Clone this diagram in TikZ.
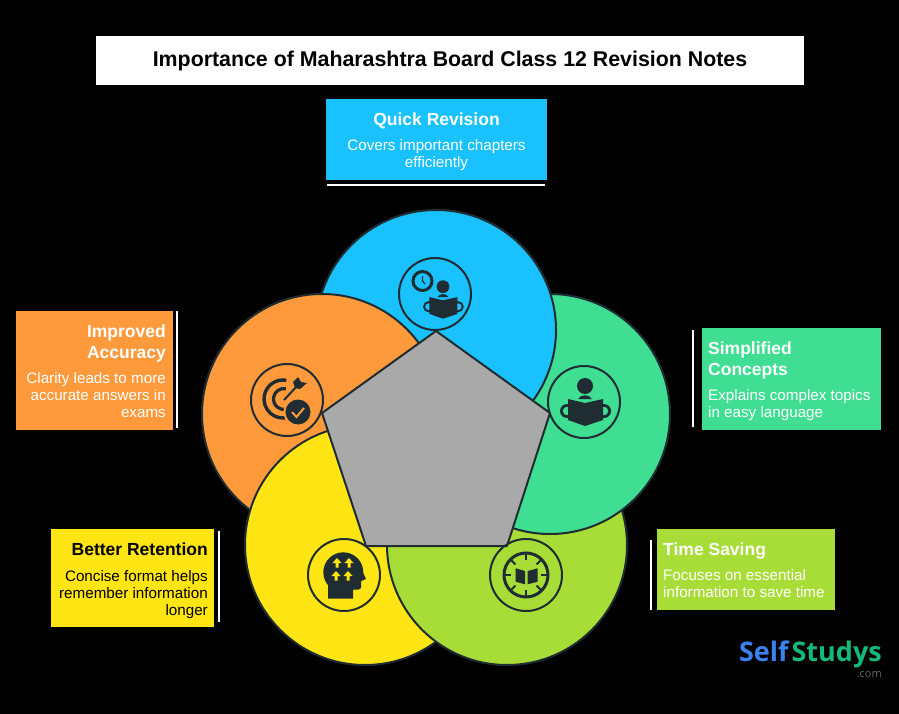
\documentclass[tikz,border=0pt]{standalone}
\usepackage{fontspec}
\usepackage{xcolor}
\setmainfont{Liberation Sans}
\newfontfamily\logofont{Open Sans}
\usetikzlibrary{positioning, shapes}

\definecolor{inkdark}{HTML}{1F2D33}
\definecolor{blueq}{HTML}{19C1FF}
\definecolor{orangeq}{HTML}{FF9A3C}
\definecolor{greenq}{HTML}{40DE93}
\definecolor{yellowq}{HTML}{FFE513}
\definecolor{limeq}{HTML}{A8DC36}
\definecolor{greyq}{HTML}{A9A9A9}
\definecolor{logoblue}{HTML}{3B82F0}
\definecolor{logogreen}{HTML}{17B97A}

\tikzset{
  petal/.style={circle, draw=inkdark, line width=2pt, minimum size=240pt, inner sep=0pt},
  iconring/.style={circle, draw=inkdark, line width=2pt, minimum size=72pt, inner sep=0pt},
  notebox/.style={rectangle, inner sep=0pt},
  headtext/.style={inner sep=0pt, text=white, font=\fontsize{17.5}{21}\selectfont\bfseries},
  bodytext/.style={inner sep=0pt, text=white, font=\fontsize{15.2}{17}\selectfont},
  rule/.style={draw=white, line width=2pt}
}

% reader with a book, drawn round (0,0), #1 is the colour behind it
\newcommand{\bookreader}[1]{
  \fill[inkdark] (0,-16) circle (8);
  \fill[inkdark] (-7,-3) .. controls (-4,-8) and (4,-8) .. (7,-3) -- cycle;
  \fill[inkdark] (-18,9) circle (7) (19,9) circle (7);
  \fill[#1] (-18,9) circle (4.2) (19,9) circle (4.2);
  \fill[inkdark] (-17,-3) -- (0,1) -- (18,-3) -- (18,18) -- (0,24) -- (-17,18) -- cycle;
}

\begin{document}
\begin{tikzpicture}[x=1pt, y=-1pt]
  \useasboundingbox (0,0) rectangle (899,714);
  \fill[black] (0,0) rectangle (899,714);

  % title
  \node (title) [rectangle, fill=white, minimum width=708pt, minimum height=49pt, inner sep=0pt, font=\fontsize{21.35}{26}\selectfont\bfseries] at (450,60.5) {\raisebox{-1.5pt}{Importance of Maharashtra Board Class 12 Revision Notes}};

  % petals
  \node (pblue) [petal, fill=blueq] at (436,330) {};
  \node (porange) [petal, fill=orangeq] at (322,414) {};
  \node (pyellow) [petal, fill=yellowq] at (365,545) {};
  \node (plime) [petal, fill=limeq] at (507,545) {};
  \node (pgreen) [petal, fill=greenq] at (550,414) {};
  \begin{scope}
    \clip (436,200) rectangle (570,460);
    \node (pblueover) [petal, fill=blueq] at (436,330) {};
  \end{scope}
  \draw[inkdark, line width=2pt, fill=greyq, line join=round] (436,331) -- (550,413) -- (507,546) -- (366,546) -- (322,413) -- cycle;

  % icon rings
  \node (iblue) [iconring] at (435,294) {};
  \node (iorange) [iconring] at (287,400) {};
  \node (igreen) [iconring] at (584,402) {};
  \node (iyellow) [iconring] at (344,575) {};
  \node (ilime) [iconring] at (526,575) {};

  % clock and reader
  \draw[inkdark, line width=3pt] (422.5,281) circle (9.5);
  \draw[inkdark, line width=1.2pt] (422.5,276) -- (422.5,281) -- (425,284);
  \begin{scope}[shift={(443,299.5)}, scale=0.8]
    \bookreader{blueq}
  \end{scope}

  % target
  \draw[inkdark, line width=3.4pt] (283,399) ++(-80:19) arc[start angle=-80, end angle=-280, radius=19];
  \draw[inkdark, line width=3.2pt] (284,399) ++(-80:10.5) arc[start angle=-80, end angle=-280, radius=10.5];
  \draw[inkdark, line width=2pt] (284,400) -- (298,385);
  \fill[inkdark] (293,382) -- (298,377) -- (301,382) -- (307,383) -- (300,389) -- (295,388) -- cycle;
  \fill[orangeq] (298,412) circle (14.5);
  \fill[inkdark] (298,412) circle (12.5);
  \draw[orangeq, line width=2pt] (292,412) -- (296.5,417) -- (304,408);

  % reader
  \begin{scope}[shift={(585,402)}]
    \bookreader{greenq}
  \end{scope}

  % head
  \fill[inkdark] (343.3,572.3) circle (20);
  \fill[inkdark] (328,580) -- (328,598.5) -- (353,598.5) -- (353,589.5) .. controls (357,590) and (361,590) .. (361,587) -- (361,581) -- (366,579) -- (361,568) -- cycle;
  \foreach \ax/\ay in {337/563, 349/563, 336/576, 348/576} {
    \fill[yellowq] (\ax,\ay-5) -- (\ax+4.5,\ay) -- (\ax+1.5,\ay) -- (\ax+1.5,\ay+4.5) -- (\ax-1.5,\ay+4.5) -- (\ax-1.5,\ay) -- (\ax-4.5,\ay) -- cycle;
  }

  % compass and book
  \draw[inkdark, line width=3pt] (526,575) circle (22);
  \foreach \a in {0,45,...,315} {
    \draw[inkdark, line width=2pt] (526,575) ++(\a:21) -- ++(\a:-6);
  }
  \fill[inkdark] (515.7,568.3) -- (525,571) -- (525,584.3) -- (515.7,581.7) -- cycle;
  \fill[inkdark] (527.7,571) -- (537.7,568.3) -- (537.7,581.7) -- (527.7,584.3) -- cycle;

  % boxes
  \node (nblue) [notebox, fill=blueq, minimum width=221pt, minimum height=81pt] at (436.5,139.5) {};
  \node (norange) [notebox, fill=orangeq, minimum width=157pt, minimum height=119pt] at (94.5,370.5) {};
  \node (ngreen) [notebox, fill=greenq, minimum width=179pt, minimum height=102pt] at (791.5,379) {};
  \node (nyellow) [notebox, fill=yellowq, minimum width=163pt, minimum height=98pt] at (132.5,578) {};
  \node (nlime) [notebox, fill=limeq, minimum width=178pt, minimum height=81pt] at (746,569.5) {};

  % box texts
  \node (hblue) [headtext, anchor=north] at (436.5,113) {Quick Revision};
  \node (tblue) [bodytext, align=center, below=10pt of hblue] {Covers important chapters\\efficiently};
  \node (horange) [headtext, align=right, anchor=north east] at (166,325) {Improved\\Accuracy};
  \node (torange) [bodytext, align=right, below=10pt of horange.south east, anchor=north east] {Clarity leads to more\\accurate answers in\\exams};
  \node (hgreen) [headtext, align=left, anchor=north west] at (708,342) {Simplified\\Concepts};
  \node (tgreen) [bodytext, align=left, below=10pt of hgreen.south west, anchor=north west] {Explains complex topics\\in easy language};
  \node (hyellow) [headtext, text=black, anchor=north east] at (208,543) {Better Retention};
  \node (tyellow) [bodytext, text=black, align=right, below=14pt of hyellow.south east, anchor=north east] {Concise format helps\\remember information\\longer};
  \node (hlime) [headtext, anchor=north west] at (663,543) {Time Saving};
  \node (tlime) [bodytext, align=left, below=9pt of hlime.south west, anchor=north west] {Focuses on essential\\information to save time};

  % rules beside the boxes
  \coordinate (rblueA) at (327,185);
  \coordinate (rblueB) at (545,185);
  \coordinate (rorangeA) at (177,311);
  \coordinate (rorangeB) at (177,428);
  \coordinate (rgreenA) at (693,330);
  \coordinate (rgreenB) at (693,427);
  \coordinate (ryellowA) at (219,531);
  \coordinate (ryellowB) at (219,622);
  \coordinate (rlimeA) at (651,540);
  \coordinate (rlimeB) at (651,610);
  \foreach \r in {rblue, rorange, rgreen, ryellow, rlime} {
    \draw[rule] (\r A) -- (\r B);
  }

  % logo
  \node (logo) [inner sep=0pt, anchor=east, font=\logofont\fontsize{27}{32}\selectfont\bfseries] at (882,654) {\textcolor{logoblue}{Self}\hspace{3pt}\textcolor{logogreen}{Studys}};
  \node (logocom) [inner sep=0pt, anchor=east, text=black!60, font=\logofont\fontsize{11}{13}\selectfont] at (882,675) {.com};
\end{tikzpicture}
\end{document}
